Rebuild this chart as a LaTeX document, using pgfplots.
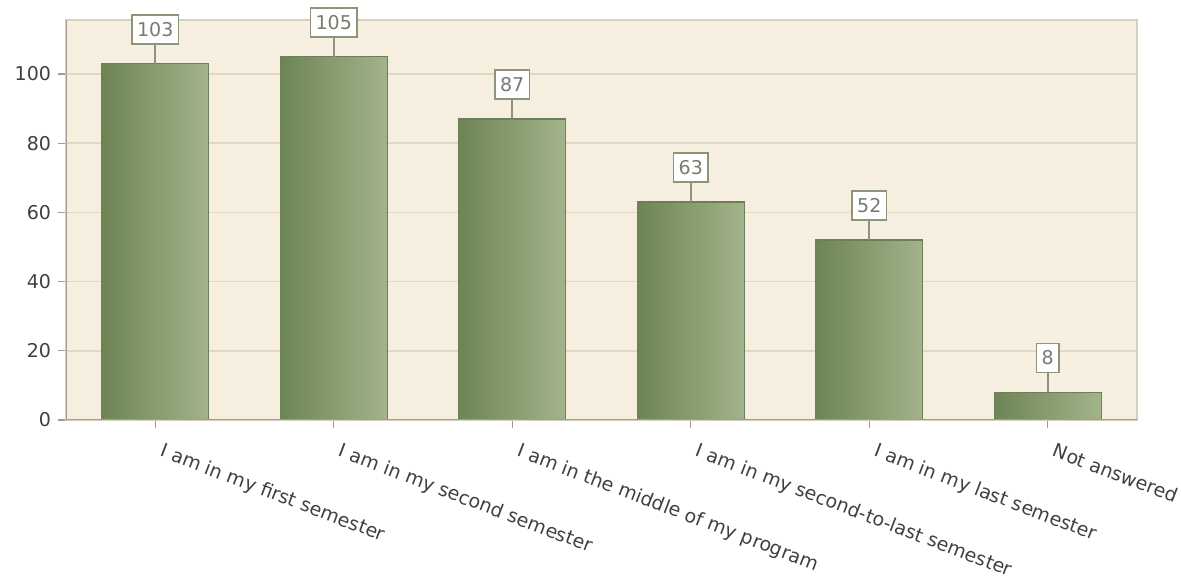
\documentclass[border=0pt]{standalone}
\usepackage{fontspec}
\setmainfont{DejaVu Sans}
\usepackage{pgfplots}
\pgfplotsset{compat=1.18}
\definecolor{bgc}{HTML}{F6EFE0}
\definecolor{gridc}{HTML}{E2D8C2}
\definecolor{axc}{HTML}{A39C8C}
\definecolor{boxc}{HTML}{D6CFC0}
\definecolor{barL}{HTML}{6D8554}
\definecolor{barR}{HTML}{A3B38B}
\definecolor{barB}{HTML}{6E7E5B}
\definecolor{lblc}{HTML}{8C9479}
\definecolor{txtc}{HTML}{404040}
\definecolor{valc}{HTML}{7A7A72}
\pgfplotsset{
  mybar/.style={ybar, bar shift=0pt, bar width=0.6, draw=barB, line width=0.6pt,
    left color=barL, right color=barR,
    error bars/.cd, y dir=plus, y fixed=5.78, error mark=none,
    error bar style={draw=lblc, line width=0.9pt, solid}},
}
\begin{document}
\begin{tikzpicture}
\begin{axis}[
  at={(0,0)}, anchor=south west,
  scale only axis, width=535.5pt, height=200pt,
  xmin=-0.5, xmax=5.5, ymin=0, ymax=115.6,
  /pgf/number format/assume math mode=true,
  axis background/.style={fill=bgc},
  axis line style={draw=boxc, line width=0.8pt},
  ytick={0,20,40,60,80,100},
  xtick={0,1,2,3,4,5},
  xticklabels={I am in my first semester, I am in my second semester, I am in the middle of my program, I am in my second-to-last semester, I am in my last semester, Not answered},
  tick align=outside, major tick length=4pt,
  tick style={draw=axc, line width=0.6pt},
  ytick pos=left, xtick pos=bottom,
  ymajorgrids, grid style={draw=gridc, line width=0.8pt},
  ticklabel style={font=\fontsize{9.5}{11}\selectfont, text=txtc},
  xticklabel style={anchor=north west, inner sep=0pt, xshift=4.5pt, yshift=-7pt, rotate=-21},
  ybar,
  nodes near coords,
  every node near coord/.style={anchor=south, yshift=9.5pt, draw=lblc, fill=white, line width=0.8pt,
    text=valc, font=\fontsize{9.5}{11}\selectfont, inner xsep=2.6pt, inner ysep=2pt, minimum height=14.5pt},
]
\addplot[mybar] coordinates {(0,103)};
\addplot[mybar] coordinates {(1,105)};
\addplot[mybar] coordinates {(2,87)};
\addplot[mybar] coordinates {(3,63)};
\addplot[mybar] coordinates {(4,52)};
\addplot[mybar] coordinates {(5,8)};
\draw[axc, line width=0.9pt] (rel axis cs:0,0) -- (rel axis cs:0,1);
\draw[axc, line width=0.9pt] (rel axis cs:0,0) -- (rel axis cs:1,0);
\end{axis}
\pgfresetboundingbox
\path (-33pt,-81pt) rectangle (557.5pt,210pt);
\end{tikzpicture}
\end{document}
